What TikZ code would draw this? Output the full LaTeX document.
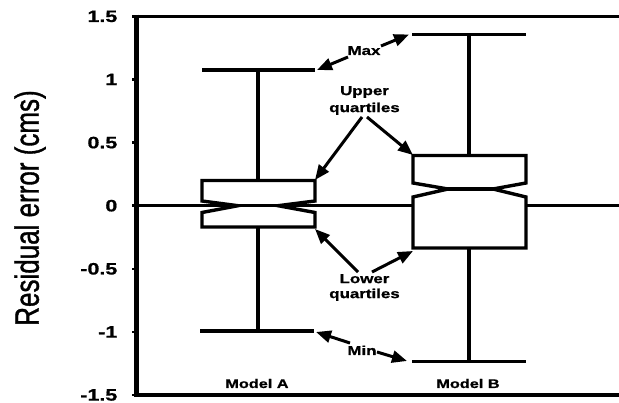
\documentclass[tikz,border=0pt]{standalone}
\usepackage{fontspec}
\setmainfont{Liberation Sans}
\newfontfamily\ylabfont[FakeBold=1.2]{Liberation Sans}
\newfontfamily\boldlab[FakeBold=0.8]{Liberation Sans Bold}
\usetikzlibrary{arrows.meta}
\newcommand{\wide}[1]{\scalebox{1.3}[1]{#1}}
\begin{document}
\begin{tikzpicture}[x=1pt,y=-1pt,
  axisline/.style={line width=3.6pt},
  spine/.style={line width=4.8pt},
  tickmark/.style={line width=2.4pt},
  plotline/.style={line width=3.4pt},
  boxshape/.style={line width=3.4pt, fill=white, line join=miter},
  ann/.style={line width=3pt, -{Triangle[length=15pt,width=12pt]}},
  ticklab/.style={anchor=east, inner sep=0pt, font=\fontsize{16.5}{16.5}\boldlab},
  annlab/.style={inner sep=0pt, font=\fontsize{13}{17}\boldlab, align=center},
  modlab/.style={inner sep=0pt, anchor=base, font=\fontsize{12.5}{12.5}\boldlab},
  ]
\useasboundingbox (0,0) rectangle (619,403);

% frame
\coordinate (ftl) at (136.5,16.4);
\coordinate (ftr) at (619,16.4);
\coordinate (fbl) at (136.5,395);
\coordinate (fbr) at (619,395);
\coordinate (z0) at (136.5,205.7);
\coordinate (z1) at (619,205.7);
\draw[axisline] (ftl) -- (ftr);
\draw[axisline] (fbl) -- (fbr);
\draw[spine] (136.5,14.6) -- (136.5,396.8);
\draw[plotline] (z0) -- (z1);

% ticks and labels
\foreach \v/\t/\n in {1.5/1.5/a,1/1/b,0.5/0.5/c,0/0/d,-0.5/-0.5/e,-1/-1/f,-1.5/-1.5/g}{
  \pgfmathsetmacro{\yy}{205.7-126.2*\v}
  \coordinate (tk\n) at (136.5,\yy);
  \draw[tickmark] (tk\n) -- ++(-4.5,0);
  \node[ticklab] (tl\n) at (117.5,\yy) {\wide{\t}};
}

% y label
\node[rotate=90, inner sep=0pt, font=\fontsize{26}{26}\ylabfont] (ylab) at (30,208)
  {\scalebox{1}[1.3]{Residual error (cms)}};

% Model A whiskers
\coordinate (Awt) at (258,70);
\coordinate (Awb) at (258,331);
\draw[plotline] (Awt) -- (Awb);
\draw[plotline] (202,70) -- (315,70);
\draw[plotline] (200,331) -- (314,331);
% Model A box
\draw[boxshape] (202,180.5) -- (315,180.5) -- (315,201) -- (278,205.7) -- (315,212.5)
  -- (315,227) -- (202,227) -- (202,212.5) -- (238,205.7) -- (202,201) -- cycle;
\draw[plotline] (238,205.7) -- (278,205.7);

% Model B whiskers
\coordinate (Bwt) at (469,34.5);
\coordinate (Bwb) at (469,361.5);
\draw[plotline] (Bwt) -- (Bwb);
\draw[plotline] (412,34.5) -- (526,34.5);
\draw[plotline] (412,361.5) -- (526,361.5);
% Model B box
\draw[boxshape] (413,155.5) -- (526,155.5) -- (526,183) -- (493,189) -- (526,197)
  -- (526,248) -- (413,248) -- (413,197) -- (448,189) -- (413,183) -- cycle;
\draw[plotline] (448,189) -- (493,189);

% model labels
\node[modlab] (mA) at (257,388) {\wide{Model A}};
\node[modlab] (mB) at (468,388) {\wide{Model B}};

% annotation labels
\node[annlab, anchor=base] (max) at (364,55) {\wide{Max}};
\node[annlab] (upq) at (364.5,100.5) {\wide{Upper}\\\wide{quartiles}};
\node[annlab, font=\fontsize{13}{15}\boldlab] (loq) at (364.5,287.5) {\wide{Lower}\\\wide{quartiles}};
\node[annlab, anchor=base] (min) at (362,355) {\wide{Min}};

% arrow ends
\coordinate (maxA0) at (348,57);   \coordinate (maxA) at (317,70);
\coordinate (maxB0) at (381,46);   \coordinate (maxB) at (409,34.5);
\coordinate (upA0) at (362,117);   \coordinate (upA) at (315,180);
\coordinate (upB0) at (367,117);   \coordinate (upB) at (413,155);
\coordinate (loA0) at (358,272);   \coordinate (loA) at (315,229);
\coordinate (loB0) at (372,272);   \coordinate (loB) at (413,251);
\coordinate (minA0) at (350,343);  \coordinate (minA) at (316,332);
\coordinate (minB0) at (377,352);  \coordinate (minB) at (407,361);

\draw[ann] (maxA0) -- (maxA);
\draw[ann] (maxB0) -- (maxB);
\draw[ann] (upA0) -- (upA);
\draw[ann] (upB0) -- (upB);
\draw[ann] (loA0) -- (loA);
\draw[ann] (loB0) -- (loB);
\draw[ann] (minA0) -- (minA);
\draw[ann] (minB0) -- (minB);
\end{tikzpicture}
\end{document}
